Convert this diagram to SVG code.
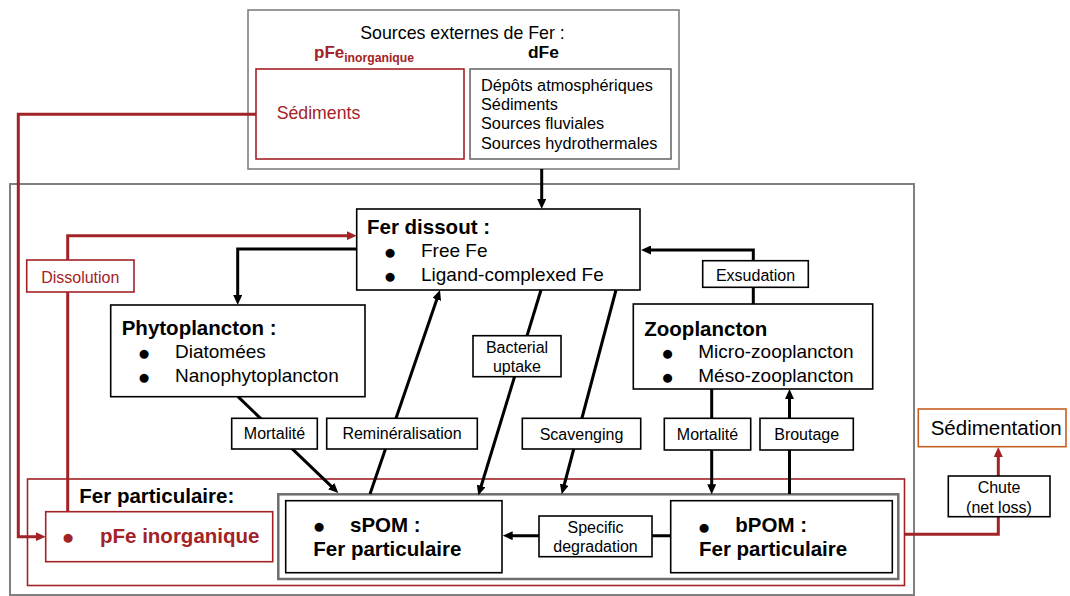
<svg xmlns="http://www.w3.org/2000/svg" width="1070" height="596" viewBox="0 0 1070 596">
<defs>
<marker id="ab" viewBox="0 0 10 9" markerUnits="userSpaceOnUse" markerWidth="10" markerHeight="9" refX="4" refY="4.5" orient="auto"><path d="M0,0 L10,4.5 L0,9 z" fill="#000"/></marker>
<marker id="ar" viewBox="0 0 10 9" markerUnits="userSpaceOnUse" markerWidth="10" markerHeight="9" refX="4" refY="4.5" orient="auto"><path d="M0,0 L10,4.5 L0,9 z" fill="#a32226"/></marker>
</defs>
<style>
text{font-family:"Liberation Sans",Arial,sans-serif;fill:#000}
.box{fill:#fff;stroke:#000;stroke-width:1.6}
.rbox{fill:#fff;stroke:#a32226;stroke-width:1.6}
.lab{font-size:16px;text-anchor:middle}
.h{font-size:20.5px;font-weight:bold}
.b{font-size:19px}
.dot{font-size:21px;text-anchor:middle}
.red{fill:#a32226}
.c{fill:none;stroke:#000;stroke-width:3}
.cr{fill:none;stroke:#a32226;stroke-width:3}
</style>
<rect width="1070" height="596" fill="#fff"/>

<g id="sources">
<rect x="248" y="10" width="431" height="159" fill="#fff" stroke="#7f7f7f" stroke-width="1.6"/>
<text x="462.5" y="39" font-size="17.8" text-anchor="middle">Sources externes de Fer :</text>
<text x="314" y="58" font-size="17" font-weight="bold" class="red">pFe<tspan font-size="12.2" dy="4">inorganique</tspan></text>
<text x="528" y="58" font-size="17.4" font-weight="bold">dFe</text>
</g>
<g id="sediments-src">
<rect x="256" y="69" width="208" height="90" fill="#fff" stroke="#a32226" stroke-width="1.6"/>
<text x="276.7" y="119.3" font-size="17.7" class="red">Sédiments</text>
</g>
<g id="dfe-src">
<rect x="470" y="69" width="201" height="90" fill="#fff" stroke="#6b6b6b" stroke-width="1.6"/>
<text x="481" y="90.7" font-size="16.3">Dépôts atmosphériques</text>
<text x="481" y="110" font-size="16.3">Sédiments</text>
<text x="481" y="129.3" font-size="16.3">Sources fluviales</text>
<text x="481" y="148.7" font-size="16.3">Sources hydrothermales</text>
</g>

<g id="ocean">
<rect x="10" y="184" width="904" height="411" fill="none" stroke="#808080" stroke-width="2"/>
</g>
<g id="fer-particulaire">
<rect x="27.5" y="479" width="877" height="106.5" fill="none" stroke="#a32226" stroke-width="1.6"/>
<text x="79.3" y="503.3" class="h">Fer particulaire:</text>
</g>
<g id="pom-group">
<rect x="278.3" y="494.3" width="620" height="84.7" fill="none" stroke="#6e6e6e" stroke-width="2.5"/>
</g>

<g id="connectors">
<path class="c" d="M541.7,169 V203" marker-end="url(#ab)"/>
<path class="c" d="M357,249 H237.7 V299" marker-end="url(#ab)"/>
<path class="cr" d="M67.7,511.7 V235.7 H350.7" marker-end="url(#ar)"/>
<path class="cr" d="M256,114.3 H18.3 V536.7 H39.7" marker-end="url(#ar)"/>
<path class="c" d="M753.3,304 V250 H647" marker-end="url(#ab)"/>
<path class="c" d="M238,396.7 L334,488.8" marker-end="url(#ab)"/>
<path class="c" d="M370,494 L438.05,295.67" marker-end="url(#ab)"/>
<path class="c" d="M541,290 L480.05,489.76" marker-end="url(#ab)"/>
<path class="c" d="M616,290 L563.24,488.5" marker-end="url(#ab)"/>
<path class="c" d="M711.7,389 V488.3" marker-end="url(#ab)"/>
<path class="c" d="M789.5,494 V395" marker-end="url(#ab)"/>
<path class="c" d="M670.7,535.7 H508.7" marker-end="url(#ab)"/>
<path class="cr" d="M904.3,534.3 H998.3 V453" marker-end="url(#ar)"/>
</g>

<g id="fer-dissout">
<rect class="box" x="356.7" y="209" width="283.3" height="81"/>
<text x="367" y="234" class="h">Fer dissout :</text>
<text x="390" y="258.5" class="dot">●</text>
<text x="421" y="256.7" class="b">Free Fe</text>
<text x="390" y="282.5" class="dot">●</text>
<text x="421" y="280.7" class="b">Ligand-complexed Fe</text>
</g>

<g id="phytoplancton">
<rect class="box" x="110.7" y="305" width="254.3" height="91.7"/>
<text x="121.7" y="335" class="h">Phytoplancton :</text>
<text x="144" y="360.2" class="dot">●</text>
<text x="175" y="358.3" class="b">Diatomées</text>
<text x="144" y="384.2" class="dot">●</text>
<text x="175" y="382.3" class="b">Nanophytoplancton</text>
</g>

<g id="zooplancton">
<rect class="box" x="633.3" y="304" width="239.4" height="85"/>
<text x="644.3" y="335.7" class="h">Zooplancton</text>
<text x="667.7" y="360.2" class="dot">●</text>
<text x="698.3" y="358.3" class="b">Micro-zooplancton</text>
<text x="667.7" y="384.2" class="dot">●</text>
<text x="698.3" y="381.7" class="b">Méso-zooplancton</text>
</g>

<g id="pfe-inorganique">
<rect class="rbox" x="45.7" y="511.7" width="227" height="50"/>
<text x="68" y="544.2" class="dot red">●</text>
<text x="100" y="542.7" class="h red">pFe inorganique</text>
</g>

<g id="spom">
<rect class="box" x="285.7" y="500.7" width="216.3" height="72"/>
<text x="319" y="533.2" class="dot">●</text>
<text x="350" y="531.7" class="h">sPOM :</text>
<text x="313.3" y="555.7" class="h">Fer particulaire</text>
</g>

<g id="bpom">
<rect class="box" x="670.7" y="500.7" width="221.6" height="72"/>
<text x="704" y="534.2" class="dot">●</text>
<text x="735.3" y="531.7" class="h">bPOM :</text>
<text x="699" y="555.7" class="h">Fer particulaire</text>
</g>

<g id="sedimentation">
<rect x="918.3" y="409" width="147.7" height="37.7" fill="#fff" stroke="#c65f22" stroke-width="1.6"/>
<text x="930.7" y="435" font-size="20.5">Sédimentation</text>
</g>

<g id="label-dissolution">
<rect class="rbox" x="26.7" y="260" width="107.3" height="32"/>
<text x="80.3" y="282.7" class="lab red">Dissolution</text>
</g>
<g id="label-exsudation">
<rect class="box" x="702.7" y="260.7" width="105.6" height="26.6"/>
<text x="755.5" y="280.7" class="lab">Exsudation</text>
</g>
<g id="label-bacterial">
<rect class="box" x="473" y="335.7" width="88" height="41"/>
<text x="517" y="352.7" class="lab">Bacterial</text>
<text x="517" y="372" class="lab">uptake</text>
</g>
<g id="label-mortalite-phyto">
<rect class="box" x="231.7" y="418.3" width="85.6" height="30.7"/>
<text x="274.5" y="439.3" class="lab">Mortalité</text>
</g>
<g id="label-remineralisation">
<rect class="box" x="326.7" y="418.3" width="150.6" height="30.7"/>
<text x="402" y="439.3" class="lab">Reminéralisation</text>
</g>
<g id="label-scavenging">
<rect class="box" x="522.3" y="418.3" width="118.4" height="30.7"/>
<text x="581.5" y="440" class="lab">Scavenging</text>
</g>
<g id="label-mortalite-zoo">
<rect class="box" x="664.3" y="418.3" width="86.4" height="31.7"/>
<text x="707.5" y="439.5" class="lab">Mortalité</text>
</g>
<g id="label-broutage">
<rect class="box" x="760" y="418.3" width="93.3" height="31.7"/>
<text x="806.7" y="439.5" class="lab">Broutage</text>
</g>
<g id="label-specific">
<rect class="box" x="539" y="516" width="113" height="40.7"/>
<text x="595.5" y="533.3" class="lab">Specific</text>
<text x="595.5" y="552.3" class="lab">degradation</text>
</g>
<g id="label-chute">
<rect class="box" x="948.3" y="476" width="101.7" height="40.7"/>
<text x="999" y="492.7" class="lab">Chute</text>
<text x="999" y="512.7" class="lab">(net loss)</text>
</g>
</svg>
